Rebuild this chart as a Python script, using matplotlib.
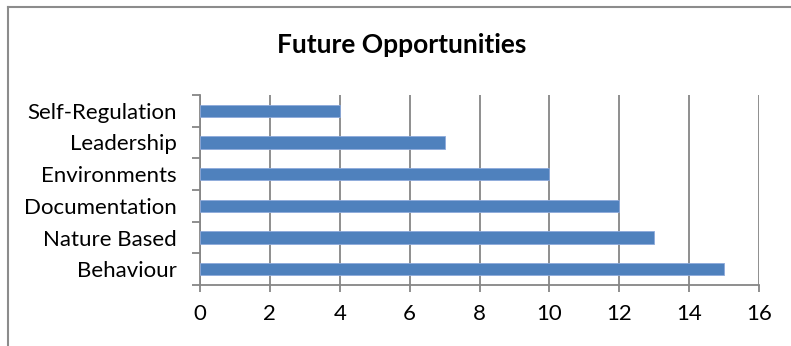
import matplotlib
matplotlib.use("Agg")
import matplotlib.pyplot as plt
from matplotlib.lines import Line2D

categories = ["Behaviour", "Nature Based", "Documentation", "Environments", "Leadership", "Self-Regulation"]
values = [15, 13, 12, 10, 7, 4]
x_ticks = [0, 2, 4, 6, 8, 10, 12, 14, 16]
title = "Future Opportunities"

plt.rcParams['font.family'] = ['Lato', 'DejaVu Sans']

W, H = 791, 346
fig = plt.figure(figsize=(W / 100, H / 100), dpi=100)
fig.patch.set_facecolor("white")

# outer chart frame (left and top visible)
fc = "#8c8c8c"
fig.add_artist(Line2D([8 / W, 8 / W], [0, 1 - 6.5 / H], color=fc, lw=1.5))
fig.add_artist(Line2D([8 / W, 1], [1 - 6.5 / H, 1 - 6.5 / H], color=fc, lw=1.5))

ax = fig.add_axes([200 / W, 61 / H, 559 / W, 190 / H])
pos = list(range(len(categories)))
ax.barh(pos, values, height=0.38, color="#4F81BD", edgecolor="#8EAADB", linewidth=0.6, zorder=3)
ax.set_xlim(0, 16)
ax.set_ylim(-0.5, len(categories) - 0.5)
ax.set_xticks(x_ticks)
ax.set_xticklabels([str(t) for t in x_ticks])
ax.set_yticks(pos)
ax.set_yticklabels(categories)
ax.tick_params(axis="y", length=0, pad=17, labelsize=16)
ax.tick_params(axis="x", length=5, width=1.3, color="#868686", pad=9, labelsize=16)
# category boundary ticks
ax.set_yticks([i - 0.5 for i in range(len(categories) + 1)], minor=True)
ax.tick_params(axis="y", which="minor", length=6, width=1.3, color="#868686")
ax.grid(axis="x", color="#868686", linewidth=1.3, zorder=0)
for s in ["top", "right"]:
    ax.spines[s].set_visible(False)
for s in ["left", "bottom"]:
    ax.spines[s].set_color("#868686")
    ax.spines[s].set_linewidth(1.3)

fig.text(402 / W, 1 - 45 / H, title, ha="center", va="center", fontsize=19, fontweight="bold")

fig.savefig("out.png", dpi=100)
